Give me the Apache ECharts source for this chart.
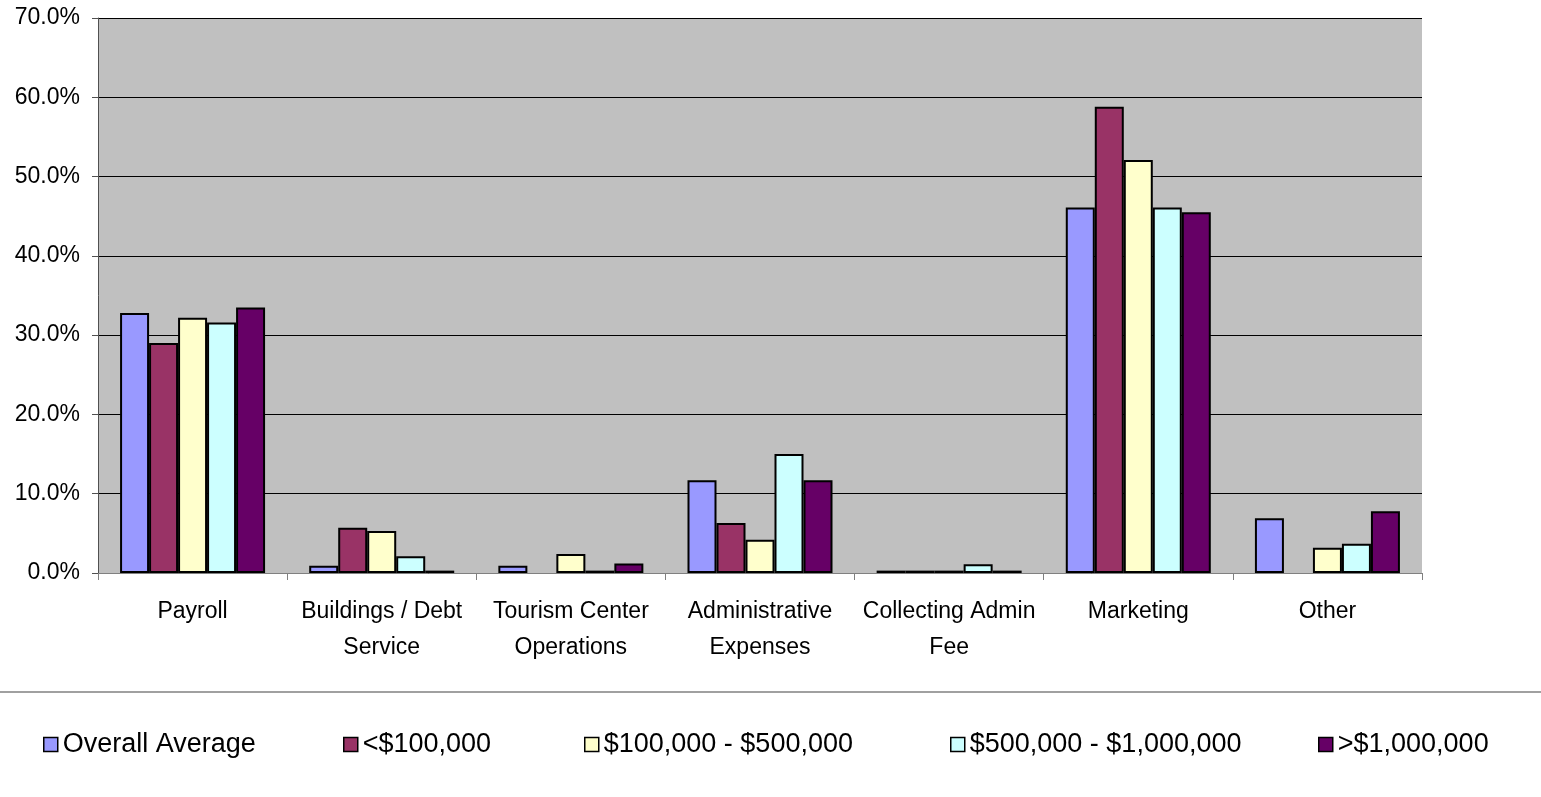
<!DOCTYPE html>
<html><head><meta charset="utf-8">
<script src="https://cdn.jsdelivr.net/npm/echarts@6/dist/echarts.min.js"></script>
<style>html,body{margin:0;padding:0;background:#fff}#c{width:1541px;height:797px}</style>
</head><body><div id="c"></div>
<script>
const categories = ['Payroll','Buildings / Debt\nService','Tourism Center\nOperations','Administrative\nExpenses','Collecting Admin\nFee','Marketing','Other'];
const seriesNames = ['Overall Average','<$100,000','$100,000 - $500,000','$500,000 - $1,000,000','>$1,000,000'];
const overallAverage = [32.8, 0.9, 0.9, 11.7, 0.3, 46.1, 6.9];
const under100k = [29.0, 5.7, 0.0, 6.3, 0.3, 58.8, 0.0];
const from100kTo500k = [32.2, 5.3, 2.4, 4.2, 0.3, 52.1, 3.2];
const from500kTo1m = [31.6, 2.1, 0.3, 15.0, 1.1, 46.1, 3.7];
const over1m = [33.5, 0.3, 1.2, 11.7, 0.3, 45.5, 7.8];
const yTicks = [0, 10, 20, 30, 40, 50, 60, 70];

const colors = ['#9999FF','#993366','#FFFFCC','#CCFFFF','#660066'];
const dataSets = [overallAverage, under100k, from100kTo500k, from500kTo1m, over1m];
const legendLeft = [38, 338, 579, 945, 1313];

const chart = echarts.init(document.getElementById('c'));
const font = 'Liberation Sans, Arial, sans-serif';
chart.setOption({
  animation: false,
  textStyle: {fontFamily: font},
  grid: {left: 98, right: 119, top: 18, bottom: 224, show: true, backgroundColor: '#C0C0C0', borderWidth: 0},
  legend: seriesNames.map((n, i) => ({
    data: [n], left: legendLeft[i], top: 726, itemWidth: 14, itemHeight: 14, itemGap: 8,
    icon: 'rect',
    textStyle: {fontSize: 27, color: '#000', fontFamily: font},
    itemStyle: {borderColor: '#000', borderWidth: 1.5}
  })),
  xAxis: {
    type: 'category', data: categories,
    axisLine: {lineStyle: {color: '#808080', width: 1}},
    axisTick: {show: true, length: 7, lineStyle: {color: '#808080'}},
    axisLabel: {fontSize: 23, color: '#000', lineHeight: 36, margin: 21, interval: 0}
  },
  yAxis: {
    type: 'value', min: 0, max: 70, interval: 10,
    axisLine: {show: true, lineStyle: {color: '#505050'}},
    axisTick: {show: true, length: 6, lineStyle: {color: '#505050'}},
    splitLine: {lineStyle: {color: '#000', width: 1}},
    axisLabel: {fontSize: 23, color: '#000', margin: 18, formatter: v => yTicks.includes(v) ? v.toFixed(1) + '%' : ''}
  },
  graphic: [{type: 'line', shape: {x1: 0, y1: 692, x2: 1541, y2: 692}, style: {stroke: '#808080', lineWidth: 1.5}}],
  series: seriesNames.map((n, i) => ({
    name: n, type: 'bar', barWidth: 29, barGap: '0%',
    data: dataSets[i].map(v => v === 0 ? {value: v, itemStyle: {borderWidth: 0}} : v),
    itemStyle: {color: colors[i], borderColor: '#000', borderWidth: 2}
  }))
});
</script></body></html>
